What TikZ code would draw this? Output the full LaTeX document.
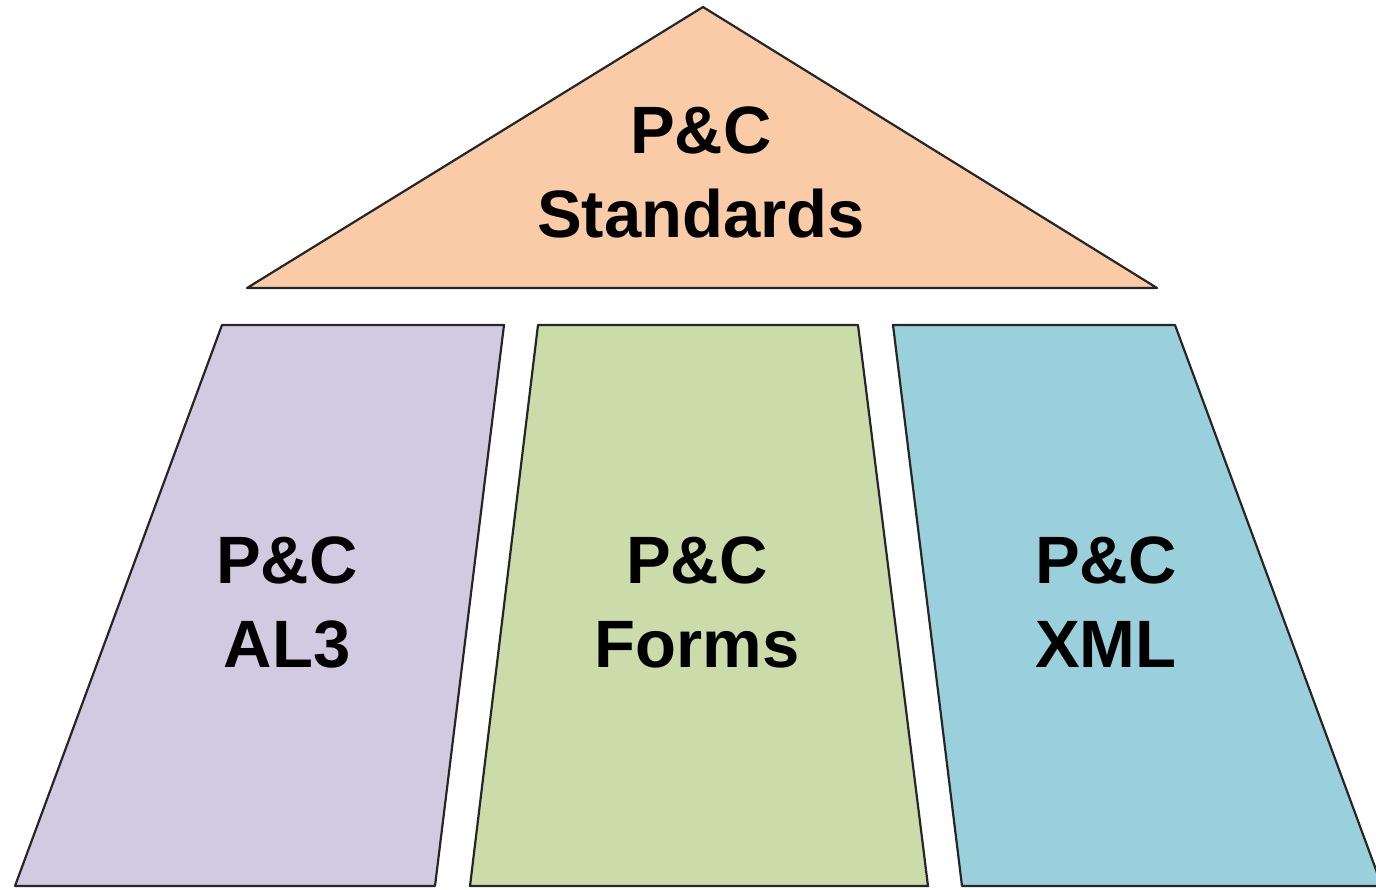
\documentclass[tikz,border=0pt]{standalone}
\usepackage{fontspec}
\setmainfont{Liberation Sans}
\usepackage{xcolor}
\definecolor{peach}{HTML}{F9CBA7}
\definecolor{lilac}{HTML}{D2CAE0}
\definecolor{sage}{HTML}{CBDBAA}
\definecolor{sky}{HTML}{99D0DC}
\begin{document}
\begin{tikzpicture}[x=0.5pt,y=-0.5pt,
        block/.style={draw=black!85,line width=1.1pt,line join=round},
        label/.style={align=center,anchor=base,inner sep=0pt,
            font=\fontsize{33.5}{42}\selectfont\bfseries}]

    \useasboundingbox (0,0) rectangle (1376,889);
    \clip (0,0) rectangle (1376,889);

    \draw[block,fill=peach] (703,7) -- (1157,288) -- (247,288) -- cycle;
    \draw[block,fill=lilac] (222,325) -- (504,325) -- (435,886) -- (15,886) -- cycle;
    \draw[block,fill=sage] (538,325) -- (858,325) -- (928,886) -- (470,886) -- cycle;
    \draw[block,fill=sky] (893,325) -- (1175,325) -- (1382,886) -- (962,886) -- cycle;

    \node[label] (top) at (701,237) {P\&C\\Standards};
    \node[label] (al3) at (287,667) {P\&C\\AL3};
    \node[label] (forms) at (697,667) {P\&C\\Forms};
    \node[label] (xml) at (1106,667) {P\&C\\XML};

\end{tikzpicture}
\end{document}
